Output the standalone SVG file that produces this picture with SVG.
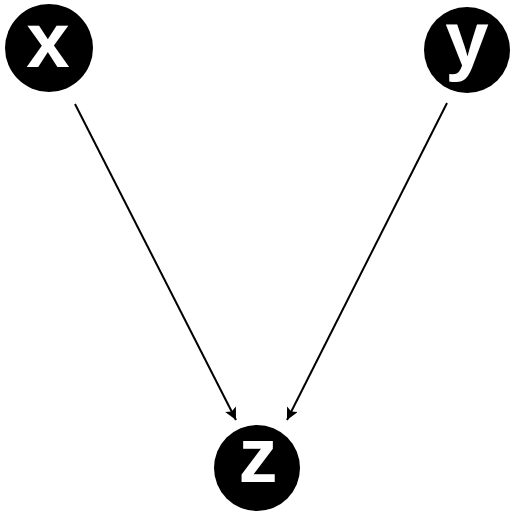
<svg xmlns="http://www.w3.org/2000/svg" width="514" height="517" viewBox="0 0 514 517">
<style>
.node circle{fill:#000}
.node text{fill:#fff;font-family:"Liberation Sans",Arial,sans-serif;font-weight:bold;font-size:78px;text-anchor:middle}
.edge{stroke:#000;stroke-width:2;fill:none;marker-end:url(#arr)}
</style>
<defs>
<marker id="arr" markerWidth="14" markerHeight="12" refX="10" refY="5" orient="auto" markerUnits="userSpaceOnUse" viewBox="0 0 10 10">
<path d="M0,0 L10,5 L0,10 L2,5 Z" fill="#000"/>
</marker>
</defs>
<rect width="514" height="517" fill="#fff"/>
<g id="edges">
<line class="edge" x1="75" y1="104" x2="236" y2="420"/>
<line class="edge" x1="447" y1="103" x2="287" y2="420"/>
</g>
<g id="x" class="node"><circle cx="49" cy="48" r="44"/><text x="48" y="67">x</text></g>
<g id="y" class="node"><circle cx="467" cy="50" r="43"/><text x="467" y="66">y</text></g>
<g id="z" class="node"><circle cx="257" cy="468" r="43"/><text x="258" y="482">z</text></g>
</svg>
